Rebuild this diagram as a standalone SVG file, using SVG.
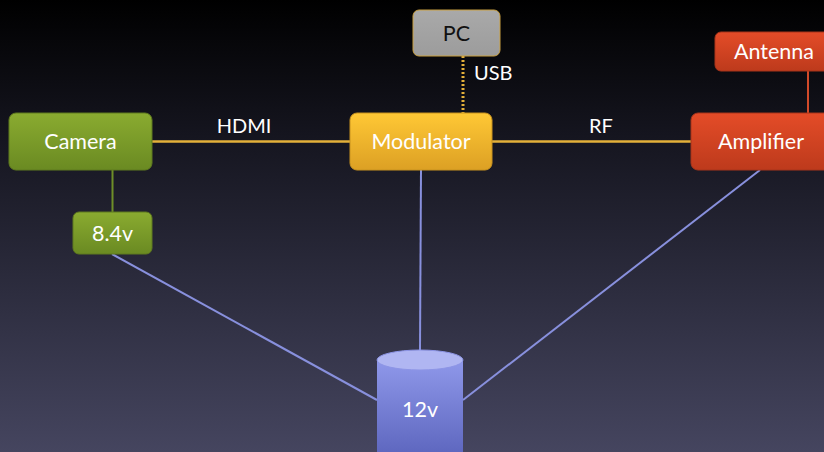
<svg xmlns="http://www.w3.org/2000/svg" width="824" height="452" viewBox="0 0 824 452">
  <defs>
    <linearGradient id="bg" x1="0" y1="0" x2="0" y2="1">
      <stop offset="0" stop-color="#000000"/>
      <stop offset="0.3" stop-color="#15151f"/>
      <stop offset="1" stop-color="#45455f"/>
    </linearGradient>
    <linearGradient id="gGreen" x1="0" y1="0" x2="0" y2="1">
      <stop offset="0" stop-color="#8aab30"/>
      <stop offset="1" stop-color="#6a8a22"/>
    </linearGradient>
    <linearGradient id="gGold" x1="0" y1="0" x2="0" y2="1">
      <stop offset="0" stop-color="#ffc835"/>
      <stop offset="1" stop-color="#dca024"/>
    </linearGradient>
    <linearGradient id="gRed" x1="0" y1="0" x2="0" y2="1">
      <stop offset="0" stop-color="#e44c28"/>
      <stop offset="1" stop-color="#bd3a1c"/>
    </linearGradient>
    <linearGradient id="gGrey" x1="0" y1="0" x2="0" y2="1">
      <stop offset="0" stop-color="#a9a9a9"/>
      <stop offset="1" stop-color="#9c9c9c"/>
    </linearGradient>
    <linearGradient id="gCyl" x1="0" y1="0" x2="0" y2="1">
      <stop offset="0" stop-color="#8f98ea"/>
      <stop offset="1" stop-color="#5f68c0"/>
    </linearGradient>
  </defs>
  <style>
    .lbl { font-family: Lato, "Open Sans", "Liberation Sans", sans-serif; font-size: 21.5px; fill: #ffffff; text-anchor: middle; }
    .edge-lbl { font-family: Lato, "Open Sans", "Liberation Sans", sans-serif; font-size: 20px; fill: #ffffff; }
    .box { stroke-width: 1; }
    .power { stroke: #8890dd; stroke-width: 2; fill: none; }
  </style>

  <rect width="824" height="452" fill="url(#bg)"/>

  <g id="connectors">
    <line x1="152" y1="141.5" x2="350" y2="141.5" stroke="#e3b03a" stroke-width="2.5"/>
    <line x1="492" y1="141.5" x2="691" y2="141.5" stroke="#e3b03a" stroke-width="2.5"/>
    <line x1="463" y1="56" x2="463" y2="113" stroke="#e3b03a" stroke-width="3" stroke-dasharray="2 2"/>
    <line x1="112.5" y1="170" x2="112.5" y2="212" stroke="#6e8e28" stroke-width="2"/>
    <line x1="808" y1="71" x2="808" y2="113" stroke="#d24a2a" stroke-width="2"/>
    <line class="power" x1="112" y1="254" x2="377" y2="400"/>
    <line class="power" x1="421" y1="170" x2="420" y2="350"/>
    <line class="power" x1="760" y1="170" x2="463" y2="400"/>
    <text class="edge-lbl" x="244" y="133" text-anchor="middle">HDMI</text>
    <text class="edge-lbl" x="601" y="133" text-anchor="middle">RF</text>
    <text class="edge-lbl" x="474" y="80">USB</text>
  </g>

  <g id="camera">
    <rect x="9" y="113" width="143" height="57" rx="7" fill="url(#gGreen)" stroke="#5f7a1e" class="box"/>
    <text class="lbl" x="80.5" y="149">Camera</text>
  </g>

  <g id="v84">
    <rect x="73" y="212" width="79" height="42" rx="6" fill="url(#gGreen)" stroke="#5f7a1e" class="box"/>
    <text class="lbl" x="112.5" y="241">8.4v</text>
  </g>

  <g id="modulator">
    <rect x="350" y="113" width="142" height="57" rx="7" fill="url(#gGold)" stroke="#c8921e" class="box"/>
    <text class="lbl" x="421" y="149">Modulator</text>
  </g>

  <g id="pc">
    <rect x="413" y="10" width="87" height="46" rx="6" fill="url(#gGrey)" stroke="#c9a040" class="box"/>
    <text class="lbl" x="456.5" y="41" style="fill:#111111">PC</text>
  </g>

  <g id="antenna">
    <rect x="715" y="32" width="118" height="39" rx="6" fill="url(#gRed)" stroke="#a8341a" class="box"/>
    <text class="lbl" x="774" y="59">Antenna</text>
  </g>

  <g id="amplifier">
    <rect x="691" y="113" width="142" height="57" rx="7" fill="url(#gRed)" stroke="#a8341a" class="box"/>
    <text class="lbl" x="761" y="149">Amplifier</text>
  </g>

  <g id="battery">
    <path d="M377 360 L377 452 L463 452 L463 360 Z" fill="url(#gCyl)"/>
    <ellipse cx="420" cy="360" rx="43" ry="10" fill="#b0b6f2" stroke="#8d95e6" stroke-width="1"/>
    <text class="lbl" x="420" y="417">12v</text>
  </g>
</svg>
